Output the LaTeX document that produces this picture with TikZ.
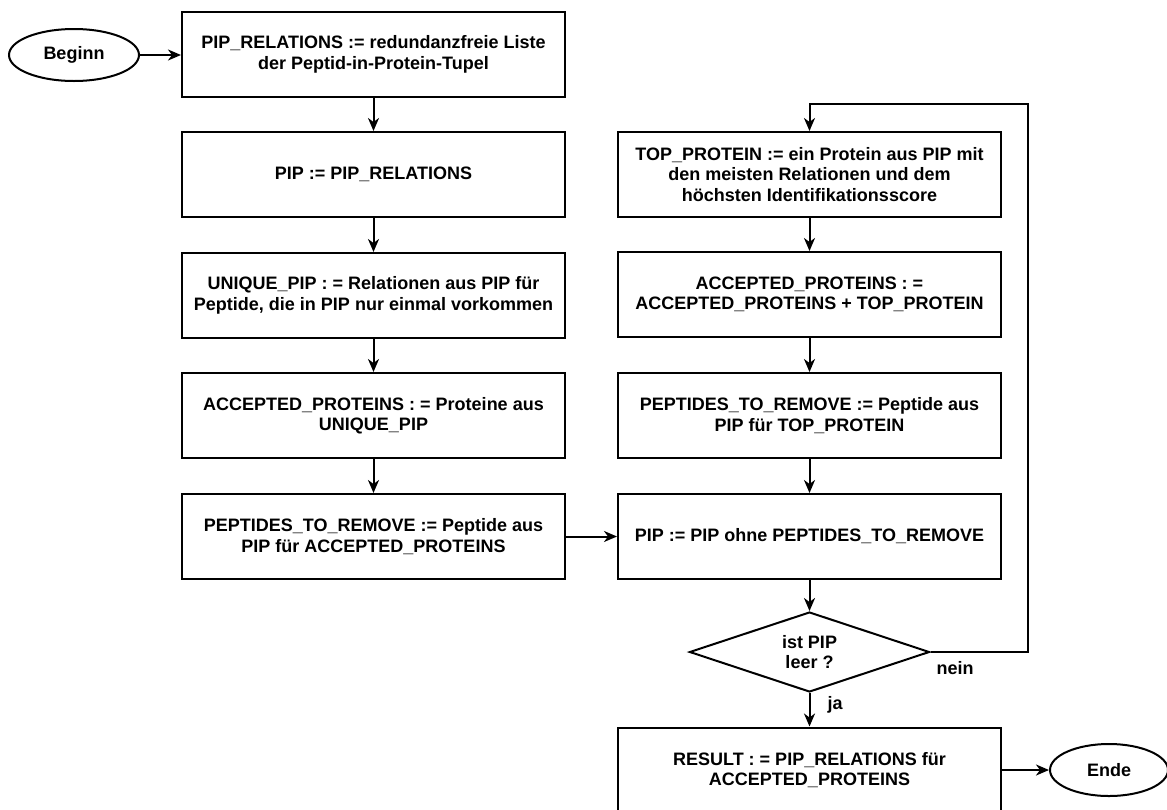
\documentclass[tikz,border=0pt]{standalone}
\usepackage{fontspec}
\setmainfont{Liberation Sans}
\usetikzlibrary{arrows.meta,shapes.geometric}
\begin{document}
\begin{tikzpicture}[x=1pt,y=-1pt,
  every node/.style={font=\bfseries\fontsize{18}{20.5}\selectfont, align=center, inner sep=0pt},
  box/.style={draw, line width=2pt, minimum width=383pt, minimum height=85pt},
  term/.style={draw, line width=2pt, ellipse, minimum width=118pt, minimum height=52pt},
  dec/.style={draw, line width=2pt, diamond, minimum width=240pt, minimum height=80pt, aspect=3},
  conn/.style={line width=2pt, -{Stealth[length=13pt,width=11pt,inset=4pt]}}]
\useasboundingbox (0,0) rectangle (1167,809);
\node[term, minimum width=130pt] (begin) at (74,55) {Beginn};
\node[box] (l1) at (373.5,54.5) {PIP\_RELATIONS := redundanzfreie Liste\\der Peptid-in-Protein-Tupel};
\node[box] (l2) at (373.5,174.5) {PIP := PIP\_RELATIONS};
\node[box] (l3) at (373.5,295.5) {UNIQUE\_PIP : = Relationen aus PIP für\\Peptide, die in PIP nur einmal vorkommen};
\node[box] (l4) at (373.5,415.5) {ACCEPTED\_PROTEINS : = Proteine aus\\UNIQUE\_PIP};
\node[box] (l5) at (373.5,536.5) {PEPTIDES\_TO\_REMOVE := Peptide aus\\PIP für ACCEPTED\_PROTEINS};
\node[box] (r1) at (809.5,174.5) {TOP\_PROTEIN := ein Protein aus PIP mit\\den meisten Relationen und dem\\höchsten Identifikationsscore};
\node[box] (r2) at (809.5,294.5) {ACCEPTED\_PROTEINS : =\\ACCEPTED\_PROTEINS + TOP\_PROTEIN};
\node[box] (r3) at (809.5,415.5) {PEPTIDES\_TO\_REMOVE := Peptide aus\\PIP für TOP\_PROTEIN};
\node[box] (r4) at (809.5,536.5) {PIP := PIP ohne PEPTIDES\_TO\_REMOVE};
\node[dec] (dec) at (809.5,652) {ist PIP\\leer ?};
\node[box] (res) at (809.5,770) {RESULT : = PIP\_RELATIONS für\\ACCEPTED\_PROTEINS};
\node[term] (end) at (1109,770) {Ende};
\node (nein) at (955,668) {nein};
\node (ja) at (835,705) {ja};
\coordinate (c2) at (1028,104);
\draw[conn] (begin.east) -- (begin.east -| l1.west);
\draw[conn] (l1) -- (l2);
\draw[conn] (l2) -- (l3);
\draw[conn] (l3) -- (l4);
\draw[conn] (l4) -- (l5);
\draw[conn] (l5) -- (r4);
\draw[conn] (r1) -- (r2);
\draw[conn] (r2) -- (r3);
\draw[conn] (r3) -- (r4);
\draw[conn] (r4) -- (dec);
\draw[conn] (dec) -- (res);
\draw[conn] (res) -- (end);
\draw[conn] (dec.east) -| (c2) -| (r1.north);
\end{tikzpicture}
\end{document}
